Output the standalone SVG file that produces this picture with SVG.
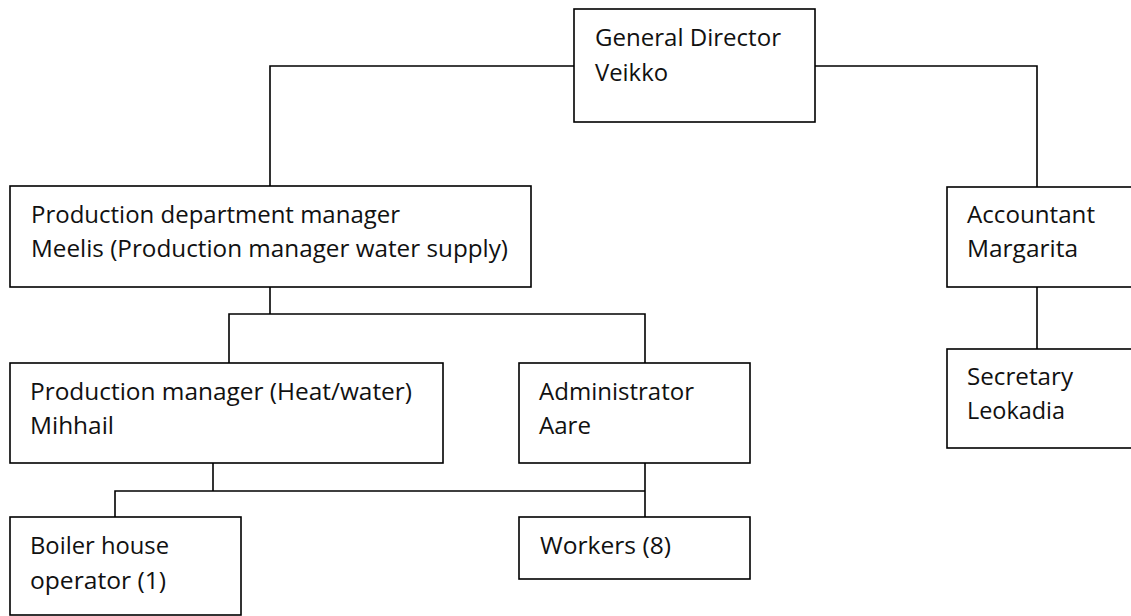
<svg xmlns="http://www.w3.org/2000/svg" width="1131" height="616" viewBox="0 0 1131 616">
  <style>
    .box { fill: #ffffff; stroke: #000000; stroke-width: 1.6; }
    .link { fill: none; stroke: #000000; stroke-width: 1.6; }
    .label { font-family: "Open Sans", "Noto Sans", "Liberation Sans", sans-serif; font-size: 24px; fill: #111111; }
  </style>
  <rect width="1131" height="616" fill="#ffffff"/>

  <!-- reporting lines -->
  <g id="connectors">
    <path class="link" d="M574 66 H270 V186"/>
    <path class="link" d="M815 66 H1037 V187"/>
    <path class="link" d="M270 287 V314"/>
    <path class="link" d="M229 363 V314 H645 V363"/>
    <path class="link" d="M1037 287 V349"/>
    <path class="link" d="M213 463 V491"/>
    <path class="link" d="M115 517 V491 H645"/>
    <path class="link" d="M645 463 V517"/>
  </g>

  <g id="general-director">
    <rect class="box" x="574" y="9" width="241" height="113"/>
    <text class="label" x="595" y="46" textLength="186" lengthAdjust="spacingAndGlyphs">General Director</text>
    <text class="label" x="595" y="81" textLength="73" lengthAdjust="spacingAndGlyphs">Veikko</text>
  </g>

  <g id="production-department-manager">
    <rect class="box" x="10" y="186" width="521" height="101"/>
    <text class="label" x="31" y="223" textLength="369" lengthAdjust="spacingAndGlyphs">Production department manager</text>
    <text class="label" x="31" y="257" textLength="477" lengthAdjust="spacingAndGlyphs">Meelis (Production manager water supply)</text>
  </g>

  <g id="accountant">
    <rect class="box" x="947" y="187" width="200" height="100"/>
    <text class="label" x="967" y="223" textLength="128" lengthAdjust="spacingAndGlyphs">Accountant</text>
    <text class="label" x="967" y="257" textLength="111" lengthAdjust="spacingAndGlyphs">Margarita</text>
  </g>

  <g id="secretary">
    <rect class="box" x="947" y="349" width="200" height="99"/>
    <text class="label" x="967" y="385" textLength="106" lengthAdjust="spacingAndGlyphs">Secretary</text>
    <text class="label" x="967" y="419" textLength="98" lengthAdjust="spacingAndGlyphs">Leokadia</text>
  </g>

  <g id="production-manager">
    <rect class="box" x="10" y="363" width="433" height="100"/>
    <text class="label" x="30" y="400" textLength="382" lengthAdjust="spacingAndGlyphs">Production manager (Heat/water)</text>
    <text class="label" x="30" y="434" textLength="84" lengthAdjust="spacingAndGlyphs">Mihhail</text>
  </g>

  <g id="administrator">
    <rect class="box" x="519" y="363" width="231" height="100"/>
    <text class="label" x="539" y="400" textLength="155" lengthAdjust="spacingAndGlyphs">Administrator</text>
    <text class="label" x="539" y="434" textLength="52" lengthAdjust="spacingAndGlyphs">Aare</text>
  </g>

  <g id="boiler-house-operator">
    <rect class="box" x="10" y="517" width="231" height="98"/>
    <text class="label" x="30" y="554" textLength="139" lengthAdjust="spacingAndGlyphs">Boiler house</text>
    <text class="label" x="30" y="589" textLength="136" lengthAdjust="spacingAndGlyphs">operator (1)</text>
  </g>

  <g id="workers">
    <rect class="box" x="519" y="517" width="231" height="62"/>
    <text class="label" x="540" y="554" textLength="131" lengthAdjust="spacingAndGlyphs">Workers (8)</text>
  </g>
</svg>
